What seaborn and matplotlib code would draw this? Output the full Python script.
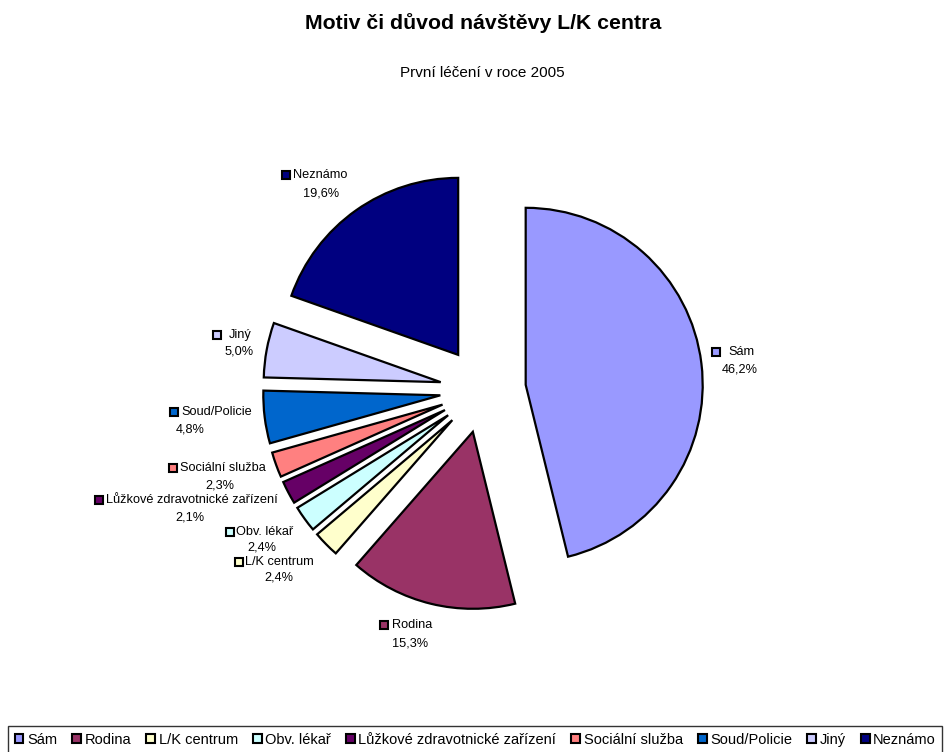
import matplotlib
matplotlib.use("Agg")
import matplotlib.pyplot as plt
from matplotlib.patches import Patch
import seaborn as sns

# --- data -------------------------------------------------------------
categories = ["Sám", "Rodina", "L/K centrum", "Obv. lékař",
              "Lůžkové zdravotnické zařízení", "Sociální služba",
              "Soud/Policie", "Jiný", "Neznámo"]
shares = [46.2, 15.3, 2.4, 2.4, 2.1, 2.3, 4.8, 5.0, 19.6]
pct_labels = ["46,2%", "15,3%", "2,4%", "2,4%", "2,1%", "2,3%", "4,8%", "5,0%", "19,6%"]
hex_colors = ["#9999FF", "#993366", "#FFFFCC", "#CCFFFF", "#660066",
              "#FF8080", "#0066CC", "#CCCCFF", "#000080"]

title = "Motiv či důvod návštěvy L/K centra"
subtitle = "První léčení v roce 2005"

# --- style ------------------------------------------------------------
sns.set_theme(style="white")
plt.rcParams["font.family"] = ["Liberation Sans", "DejaVu Sans"]
plt.rcParams["text.color"] = "black"
palette = sns.color_palette(hex_colors)

W, H = 944, 752
fig = plt.figure(figsize=(W / 100, H / 100), dpi=100)
ax = fig.add_axes([0, 0, 1, 1])

# pie drawn in pixel-like coordinates (y grows upward); explode is in the same units
cx, cy, R = 483, H - 390, 177
ax.pie(shares, colors=palette, startangle=90, counterclock=False,
       explode=[43] * len(shares), center=(cx, cy), radius=R,
       wedgeprops=dict(edgecolor="black", linewidth=1.6))
ax.set_xlim(0, W)
ax.set_ylim(0, H)
ax.set_aspect("equal")
ax.axis("off")

# data label layout: key square x, name x, first line y, percent centre x, percent y
label_layout = [
    (716, 728, 352, 740, 369),
    (384, 392, 625, 410, 643),
    (239, 245, 562, 279, 578),
    (230, 236, 532, 262, 548),
    (99, 106, 500, 190, 517),
    (173, 180, 468, 220, 485),
    (174, 181, 412, 190, 430),
    (217, 229, 335, 239, 352),
    (286, 293, 175, 321, 193),
]
for name, pct, col, (sx, tx, y1, pcx, y2) in zip(categories, pct_labels, palette, label_layout):
    ax.plot(sx, H - y1, marker="s", ms=5.5, mfc=col, mec="black", mew=1.5,
            linestyle="none", zorder=5)
    ax.text(tx, H - y1, name, ha="left", va="center", fontsize=9.2)
    ax.text(pcx, H - y2, pct, ha="center", va="center", fontsize=9.2)

# titles
fig.text(483 / W, 1 - 23 / H, title, ha="center", va="center",
         fontsize=15.3, fontweight="bold")
fig.text(482 / W, 1 - 73 / H, subtitle, ha="center", va="center", fontsize=11)

# legend along the bottom
handles = [Patch(facecolor=c, edgecolor="black", linewidth=1.5) for c in palette]
leg = fig.legend(handles, categories, loc="upper left",
                 bbox_to_anchor=(8 / W, 1 - 726 / H), ncol=len(categories),
                 fontsize=10.5, frameon=True, fancybox=False,
                 handlelength=0.6, handleheight=0.6, handletextpad=0.25,
                 columnspacing=1.03, borderpad=0.45, borderaxespad=0)
leg.get_frame().set_edgecolor("black")
leg.get_frame().set_linewidth(1.0)

fig.savefig("out.png", dpi=100, facecolor="white")
